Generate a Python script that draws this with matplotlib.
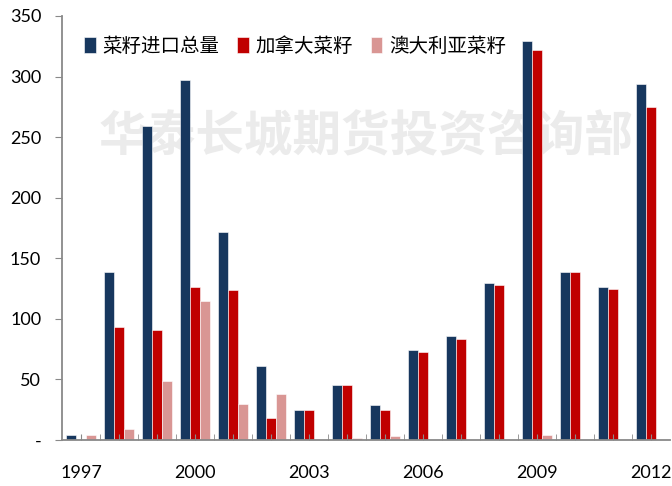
import matplotlib.pyplot as plt
import numpy as np

plt.rcParams['font.family'] = ['Lato', 'Noto Sans CJK SC', 'DejaVu Sans']

years = list(range(1997, 2013))
total = [4, 139, 259, 297, 172, 61, 25, 45, 29, 74, 86, 130, 329, 139, 126, 294]
canada = [0, 93, 91, 126, 124, 18, 25, 45, 25, 73, 83, 128, 322, 139, 125, 275]
australia = [4, 9, 49, 115, 30, 38, 0, 2, 3, 0, 0, 0, 4, 0, 0, 0]
series_names = ['菜籽进口总量', '加拿大菜籽', '澳大利亚菜籽']
colors = ['#17375E', '#C00000', '#D99694']

fig = plt.figure(figsize=(6.72, 4.86), dpi=100)
ax = fig.add_axes([62 / 672, 46 / 486, 608 / 672, 424 / 486])

x = np.arange(len(years))
w = 0.263
for k, (vals, name, c) in enumerate(zip([total, canada, australia], series_names, colors)):
    ax.bar(x + (k - 1) * w, vals, width=w, color=c, label=name,
           edgecolor='white', linewidth=0.4)

# watermark
ax.text(0.5, 0.715, '华泰长城期货投资咨询部', transform=ax.transAxes,
        ha='center', va='center', fontsize=35, fontweight='bold',
        color='#ebebeb', family=['Noto Sans CJK SC'], zorder=0)

ax.set_xlim(-0.5, len(years) - 0.5)
ax.set_ylim(0, 350)
ax.set_yticks(range(0, 351, 50))
ax.set_yticklabels(['-'] + [str(v) for v in range(50, 351, 50)])
ax.set_xticks(x)
ax.set_xticklabels([str(y) if (y - 1997) % 3 == 0 else '' for y in years])
ax.set_xticks(x[:-1] + 0.5, minor=True)

for s in ['top', 'right']:
    ax.spines[s].set_visible(False)
for s in ['left', 'bottom']:
    ax.spines[s].set_color('#898989')
    ax.spines[s].set_linewidth(1.3)

ax.tick_params(axis='y', direction='out', length=5, color='#898989',
               labelsize=13, pad=10)
ax.tick_params(axis='x', which='both', direction='in', length=4,
               color='#898989', labelsize=13, pad=18)

leg = ax.legend(loc='upper left', bbox_to_anchor=(0.008, 0.995), ncol=3,
                frameon=False, handlelength=0.6, handleheight=0.9,
                handletextpad=0.35, columnspacing=0.9,
                prop={'family': ['Noto Sans CJK SC'], 'size': 14})

fig.savefig('out.png', dpi=100)
